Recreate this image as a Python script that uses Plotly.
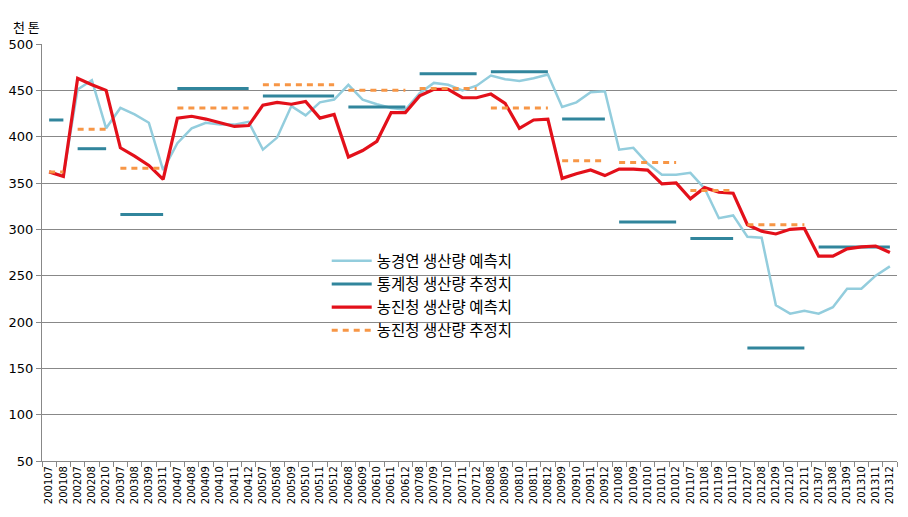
import plotly.graph_objects as go

categories = [
    "200107", "200108",
    "200207", "200208", "200210",
    "200307", "200308", "200309", "200311",
    "200407", "200408", "200409", "200410", "200411", "200412",
    "200507", "200508", "200509", "200510", "200511", "200512",
    "200608", "200609", "200610", "200611", "200612",
    "200708", "200709", "200710", "200711", "200712",
    "200808", "200809", "200810", "200811", "200812",
    "200909", "200910", "200911", "200912",
    "201008", "201009", "201010", "201011", "201012",
    "201107", "201108", "201109", "201110",
    "201207", "201208", "201209", "201210", "201211",
    "201307", "201308", "201309", "201310", "201311", "201312",
]

# 농경연 생산량 예측치
krei_forecast = [
    362, 358,
    451, 461, 409,
    431, 424, 415, 364,
    393, 409, 415, 413, 413, 416,
    386, 399, 433, 423, 437, 440,
    456, 440, 435, 431, 429,
    447, 458, 456, 450, 455,
    466, 462, 460, 463, 467,
    432, 437, 448, 449,
    386, 388, 371, 359, 359,
    361, 344, 312, 315,
    292, 291, 218, 209, 212,
    209, 216, 236, 236, 250, 260,
]

# 농진청 생산량 예측치
rda_forecast = [
    362, 357,
    463, 456, 450,
    388, 379, 369, 354,
    420, 422, 419, 415, 411, 412,
    434, 437, 435, 438, 420, 424,
    378, 385, 395, 426, 426,
    444, 451, 451, 442, 442,
    446, 436, 409, 418, 419,
    355, 360, 364, 358,
    365, 365, 364, 349, 350,
    333, 345, 340, 339,
    305, 298, 295, 300, 301,
    271, 271, 279, 281, 282, 275,
]

# 연도별 추정치 (통계청 / 농진청)
years = ["2001", "2002", "2003", "2004", "2005", "2006", "2007",
         "2008", "2009", "2010", "2011", "2012", "2013"]
kostat_estimate = [418, 387, 316, 452, 444, 432, 468,
                   470, 419, 308, 290, 172, 281]
rda_estimate = [362, 408, 366, 431, 456, 450, 452,
                431, 374, 372, 342, 305, None]

series_names = ["농경연 생산량 예측치", "통계청 생산량 추정치",
                "농진청 생산량 예측치", "농진청 생산량 추정치"]

y_ticks = [50, 100, 150, 200, 250, 300, 350, 400, 450, 500]


def expand(yearly):
    lookup = dict(zip(years, yearly))
    out = []
    prev = None
    for c in categories:
        y = c[:4]
        if prev is not None and y != prev:
            out.append(None)  # break between years
        out.append(lookup[y])
        prev = y
    return out


def expand_x():
    out = []
    prev = None
    for c in categories:
        y = c[:4]
        if prev is not None and y != prev:
            out.append(None)
        out.append(c)
        prev = y
    return out


seg_x = expand_x()

fig = go.Figure()
fig.add_trace(go.Scatter(x=categories, y=krei_forecast, mode="lines",
                         name=series_names[0],
                         line=dict(color="#93CDDD", width=2.5)))
fig.add_trace(go.Scatter(x=seg_x, y=expand(kostat_estimate), mode="lines",
                         name=series_names[1], connectgaps=False,
                         line=dict(color="#31859C", width=3)))
fig.add_trace(go.Scatter(x=categories, y=rda_forecast, mode="lines",
                         name=series_names[2],
                         line=dict(color="#E3101A", width=3.2)))
fig.add_trace(go.Scatter(x=seg_x, y=expand(rda_estimate), mode="lines",
                         name=series_names[3], connectgaps=False,
                         line=dict(color="#F79646", width=3, dash="6px,5px")))

kr_font = "Noto Sans CJK KR, Noto Sans, sans-serif"
num_font = "DejaVu Sans, Verdana, sans-serif"

fig.update_layout(
    width=900, height=509,
    margin=dict(l=34, r=11, t=36, b=56, autoexpand=False),
    paper_bgcolor="white", plot_bgcolor="white",
    font=dict(family=kr_font, color="black"),
    showlegend=True,
    legend=dict(x=0.333, y=0.52, xanchor="left", yanchor="top",
                bgcolor="rgba(255,255,255,0)",
                font=dict(size=15.5, family=kr_font),
                tracegroupgap=0, itemwidth=40),
    annotations=[dict(text="천 톤", xref="paper", yref="paper",
                      x=-0.018, y=1.041, xanchor="center", yanchor="middle",
                      showarrow=False, font=dict(size=13, family=kr_font))],
)

fig.update_xaxes(
    type="category", categoryorder="array", categoryarray=categories,
    range=[-0.5, len(categories) - 0.5], automargin=False,
    tickangle=-90, tickfont=dict(size=10, family=num_font),
    ticks="outside", ticklen=5, tickcolor="#888888", tickson="boundaries",
    showline=True, linecolor="#888888", linewidth=1,
    showgrid=False, zeroline=False,
)
fig.update_yaxes(
    range=[50, 500], tickvals=y_ticks, automargin=False,
    tickfont=dict(size=13, family=num_font),
    ticks="outside", ticklen=5, tickcolor="#888888",
    showline=True, linecolor="#888888", linewidth=1,
    showgrid=True, gridcolor="#888888", gridwidth=1, zeroline=False,
)

fig.write_html("out.html")
